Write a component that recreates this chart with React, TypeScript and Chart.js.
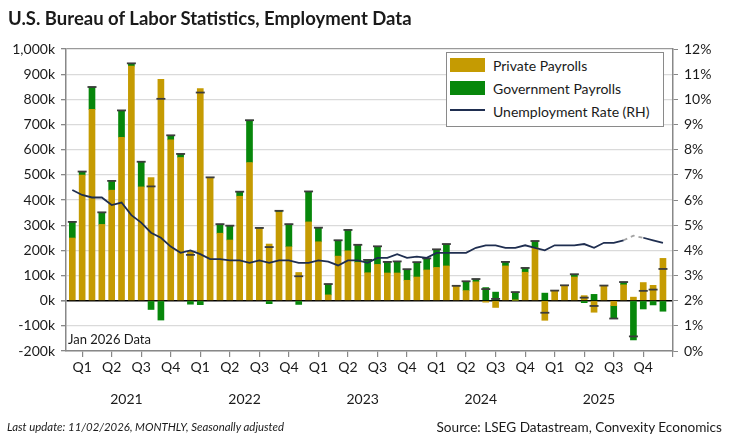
import React, { useEffect, useRef } from 'react';
import { Chart, registerables } from 'chart.js';

Chart.register(...registerables);

const monthNames = ['Jan', 'Feb', 'Mar', 'Apr', 'May', 'Jun', 'Jul', 'Aug', 'Sep', 'Oct', 'Nov', 'Dec'];
const years = ['2021', '2022', '2023', '2024', '2025'];
const quarters = ['Q1', 'Q2', 'Q3', 'Q4'];

// Jan 2021 .. Jan 2026
const months: string[] = [...years.flatMap(y => monthNames.map(m => `${m} ${y}`)), 'Jan 2026'];

// monthly change, thousands of jobs
const privatePayrolls = [
    249, 499, 760, 303, 439, 649, 932, 452, 489, 879, 639, 569,
    196, 843, 487, 268, 241, 415, 549, 286, 225, 352, 214, 112,
    313, 234, 23, 177, 198, 152, 111, 144, 110, 110, 81, 94,
    122, 132, 138, 57, 40, 75, -6, -27, 138, 2, 113, 210,
    -78, 38, 59, 94, 20, -46, 60, -20, 63, 14, 72, 61,
    168,
];
const governmentPayrolls = [
    64, 14, 89, 48, 37, 107, 11, 100, -35, -77, 18, 14,
    -14, -16, 3, 36, 57, 18, 168, 3, -12, 5, 90, -15,
    121, 56, 43, 63, 83, 70, 51, 72, 44, 46, 44, 59,
    46, 72, 87, 2, 37, 11, 52, 34, 16, 32, 17, 27,
    30, 2, 2, 11, -8, 25, 0, -51, 11, -156, -33, -17,
    -42,
];
// percent, right-hand axis (Oct 2025 not published)
const unemploymentRate = [
    6.4, 6.2, 6.1, 6.1, 5.8, 5.9, 5.4, 5.1, 4.7, 4.5, 4.15, 3.9,
    4.0, 3.85, 3.65, 3.65, 3.6, 3.6, 3.5, 3.6, 3.5, 3.6, 3.6, 3.5,
    3.5, 3.6, 3.55, 3.4, 3.6, 3.6, 3.5, 3.7, 3.7, 3.85, 3.7, 3.75,
    3.7, 3.9, 3.9, 3.9, 3.9, 4.1, 4.2, 4.2, 4.1, 4.1, 4.2, 4.1,
    4.0, 4.2, 4.2, 4.2, 4.25, 4.1, 4.3, 4.3, 4.4, null, 4.5, 4.4,
    4.3,
];
// dashed bridge over the missing release
const bridgeMonths = ['Sep 2025', 'Oct 2025', 'Nov 2025'];
const bridgeRate = [4.4, 4.58, 4.5];

const FONT = "Lato, 'Open Sans', sans-serif";
const GOLD = '#C59B02';
const GREEN = '#07870B';
const NAVY = '#1F2E50';
const X_MIN = -0.64;
const X_MAX = 61.02;

const quarterEdges = Array.from({ length: 21 }, (_, k) => k * 3 - 0.5);
const quarterCenters = Array.from({ length: 20 }, (_, k) => k * 3 + 1);
const yearCenters = years.map((_, k) => k * 12 + 5.5);

const formatK = (v: number) => `${v.toLocaleString('en-US')}k`;

export default function App() {
    const canvasRef = useRef<HTMLCanvasElement>(null);

    useEffect(() => {
        if (!canvasRef.current) return;
        const totals = privatePayrolls.map((v, i) => v + governmentPayrolls[i]);
        const tickFont = { family: FONT, size: 14 };
        const sharedX: any = {
            type: 'linear', position: 'bottom', min: X_MIN, max: X_MAX, offset: false,
        };

        const chart = new Chart(canvasRef.current, {
            type: 'bar',
            data: {
                datasets: [
                    {
                        type: 'line',
                        label: 'Unemployment Rate (RH)',
                        data: unemploymentRate.map((v, i) => ({ x: i, y: v })),
                        xAxisID: 'x', yAxisID: 'y2',
                        borderColor: NAVY, borderWidth: 1.8, pointRadius: 0, spanGaps: false,
                        order: 0,
                    },
                    {
                        type: 'line',
                        label: 'bridge',
                        data: bridgeMonths.map((m, k) => ({ x: months.indexOf(m), y: bridgeRate[k] })),
                        xAxisID: 'x', yAxisID: 'y2',
                        borderColor: '#a4a4a4', borderWidth: 1.8, borderDash: [4, 4], pointRadius: 0,
                        order: 0,
                    },
                    {
                        type: 'line',
                        label: 'Total',
                        data: totals.map((v, i) => ({ x: i, y: v })),
                        xAxisID: 'x', yAxisID: 'y',
                        showLine: false, pointStyle: 'line', pointRadius: 4.5,
                        pointBorderWidth: 1.8, pointBorderColor: '#3c3c3c',
                        order: 1,
                    },
                    {
                        label: 'Private Payrolls',
                        data: privatePayrolls.map((v, i) => ({ x: i, y: v })),
                        xAxisID: 'x', yAxisID: 'y', stack: 'pay',
                        backgroundColor: GOLD, barThickness: 6, order: 2,
                    },
                    {
                        label: 'Government Payrolls',
                        data: governmentPayrolls.map((v, i) => ({ x: i, y: v })),
                        xAxisID: 'x', yAxisID: 'y', stack: 'pay',
                        backgroundColor: GREEN, barThickness: 6, order: 2,
                    },
                ] as any,
            },
            options: {
                animation: false,
                responsive: false,
                events: [],
                layout: { padding: { left: 8, right: 8, top: 49, bottom: 22 } },
                plugins: { legend: { display: false }, tooltip: { enabled: false } },
                scales: {
                    x: {
                        ...sharedX,
                        afterBuildTicks: (a: any) => { a.ticks = quarterEdges.map(value => ({ value })); },
                        ticks: { display: false, autoSkip: false },
                        grid: { drawOnChartArea: false, drawTicks: true, tickLength: 6, tickColor: '#888', lineWidth: 1.2 },
                        border: { color: '#888', width: 1.5 },
                        afterFit: (s: any) => { s.height = 6; },
                    },
                    xq: {
                        ...sharedX,
                        afterBuildTicks: (a: any) => { a.ticks = quarterCenters.map(value => ({ value })); },
                        ticks: {
                            autoSkip: false, maxRotation: 0, padding: 2, font: tickFont, color: '#1a1a1a',
                            callback: (_v: any, i: number) => quarters[i % 4],
                        },
                        grid: { display: false, drawTicks: false },
                        border: { display: false },
                        afterFit: (s: any) => { s.height = 30; },
                    },
                    xy: {
                        ...sharedX,
                        afterBuildTicks: (a: any) => { a.ticks = yearCenters.map(value => ({ value })); },
                        ticks: {
                            autoSkip: false, maxRotation: 0, padding: 4, font: tickFont, color: '#1a1a1a',
                            callback: (_v: any, i: number) => years[i],
                        },
                        grid: { display: false, drawTicks: false },
                        border: { display: false },
                        afterFit: (s: any) => { s.height = 26; },
                    },
                    y: {
                        position: 'left',
                        stacked: true,
                        min: -200,
                        max: 1000,
                        ticks: {
                            stepSize: 100, padding: 6, font: tickFont, color: '#1a1a1a',
                            callback: (v: any) => formatK(Number(v)),
                        },
                        grid: {
                            color: (c: any) => c.tick?.value === 0 ? '#000' : c.tick?.value === 1000 ? '#9a9a9a' : '#dadada',
                            lineWidth: (c: any) => c.tick?.value === 0 ? 1.6 : 1.3,
                            tickColor: '#888',
                            tickLength: 5,
                        },
                        border: { color: '#888', width: 1.5 },
                        afterFit: (s: any) => { s.width = 58; },
                    },
                    y2: {
                        position: 'right',
                        min: 0,
                        max: 12,
                        ticks: {
                            stepSize: 1, padding: 6, font: tickFont, color: '#1a1a1a',
                            callback: (v: any) => `${v}%`,
                        },
                        grid: { drawOnChartArea: false, tickColor: '#888', tickLength: 5 },
                        border: { color: '#888', width: 1.5 },
                        afterFit: (s: any) => { s.width = 52; },
                    },
                } as any,
            },
        });

        return () => chart.destroy();
    }, []);

    const legendText: React.CSSProperties = {
        position: 'absolute', left: 46, fontSize: 14, lineHeight: '18px', color: '#1a1a1a', whiteSpace: 'nowrap',
    };

    return (
        <div style={{ position: 'fixed', left: 0, top: 0, width: 733, height: 435, background: '#fff', fontFamily: FONT, overflow: 'hidden' }}>
            <canvas ref={canvasRef} width={733} height={435} style={{ position: 'absolute', left: 0, top: 0 }} />
            <div style={{ position: 'absolute', left: 8, top: 8, fontSize: 18.5, lineHeight: '20px', fontWeight: 700, color: '#1a1a1a', whiteSpace: 'nowrap' }}>
                U.S. Bureau of Labor Statistics, Employment Data
            </div>
            <div style={{ position: 'absolute', left: 446, top: 52, width: 216, height: 73, border: '1px solid #8a8a8a', background: '#fff' }}>
                <div style={{ position: 'absolute', left: 3, top: 5, width: 35, height: 14, background: GOLD }} />
                <div style={{ ...legendText, top: 4 }}>Private Payrolls</div>
                <div style={{ position: 'absolute', left: 3, top: 28, width: 35, height: 14, background: GREEN }} />
                <div style={{ ...legendText, top: 27 }}>Government Payrolls</div>
                <div style={{ position: 'absolute', left: 3, top: 56, width: 35, height: 2, background: NAVY }} />
                <div style={{ ...legendText, top: 50 }}>Unemployment Rate (RH)</div>
            </div>
            <div style={{ position: 'absolute', left: 68, top: 331, fontSize: 13, lineHeight: '16px', color: '#1a1a1a' }}>Jan 2026 Data</div>
            <div style={{ position: 'absolute', left: 7, top: 420, fontSize: 11.4, lineHeight: '14px', fontStyle: 'italic', color: '#1a1a1a', whiteSpace: 'nowrap' }}>
                Last update: 11/02/2026, MONTHLY, Seasonally adjusted
            </div>
            <div style={{ position: 'absolute', right: 11, top: 419, fontSize: 13.6, lineHeight: '16px', color: '#1a1a1a', whiteSpace: 'nowrap' }}>
                Source: LSEG Datastream, Convexity Economics
            </div>
        </div>
    );
}
